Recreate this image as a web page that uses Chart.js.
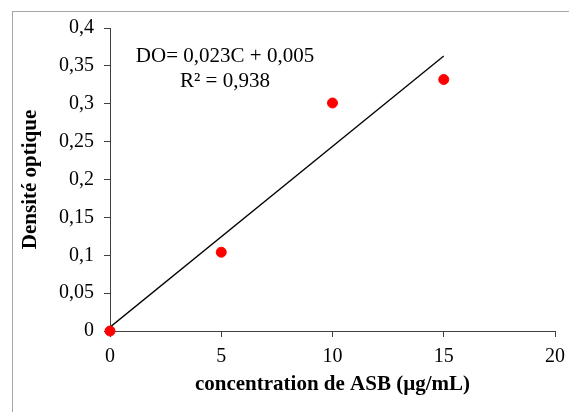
<!DOCTYPE html>
<html>
<head>
<meta charset="utf-8">
<script src="https://cdn.jsdelivr.net/npm/chart.js@4"></script>
<style>
    html, body { margin: 0; padding: 0; background: #fff; }
    #wrap { width: 569px; height: 412px; }
</style>
</head>
<body>
<div id="wrap"><canvas id="myChart" width="569" height="412"></canvas></div>
<script>
const concentrations = [0, 5, 10, 15];
const absorbances = [0, 0.104, 0.301, 0.332];
const trendX = [0, 15];
const trendY = [0.005, 0.363];
const equationLines = ['DO= 0,023C + 0,005', 'R\u00B2 = 0,938'];

const serif = 'Liberation Serif';
const axisColor = '#404040';

function frNumber(v) {
    return String(Number(v.toFixed(2))).replace('.', ',');
}

// gray frame + regression equation
const extras = {
    id: 'extras',
    afterDraw(chart) {
        const ctx = chart.ctx;
        ctx.save();
        ctx.strokeStyle = '#a6a6a6';
        ctx.lineWidth = 1;
        ctx.strokeRect(12.5, 11.5, 700, 600);
        ctx.fillStyle = '#000';
        ctx.font = '21px "' + serif + '"';
        ctx.textAlign = 'center';
        ctx.textBaseline = 'middle';
        ctx.fillText(equationLines[0], 225, 56);
        ctx.fillText(equationLines[1], 225, 81);
        ctx.restore();
    }
};

const ctx = document.getElementById('myChart').getContext('2d');
const myChart = new Chart(ctx, {
    type: 'scatter',
    data: {
        datasets: [{
            label: 'DO',
            data: concentrations.map((c, i) => ({ x: c, y: absorbances[i] })),
            backgroundColor: '#ff0000',
            borderColor: '#ff0000',
            pointRadius: 5,
            pointHoverRadius: 5,
            clip: false,
            order: 0
        }, {
            type: 'line',
            label: 'tendance',
            data: trendX.map((c, i) => ({ x: c, y: trendY[i] })),
            borderColor: '#000',
            borderWidth: 1.3,
            pointRadius: 0,
            fill: false,
            order: 1
        }]
    },
    options: {
        responsive: false,
        animation: false,
        layout: { padding: { left: 0, top: 28, right: 14, bottom: 0 } },
        plugins: {
            legend: { display: false },
            tooltip: { enabled: false }
        },
        scales: {
            x: {
                type: 'linear',
                min: 0,
                max: 20,
                ticks: {
                    stepSize: 5,
                    padding: 8,
                    color: '#000',
                    font: { family: serif, size: 20 }
                },
                grid: { drawOnChartArea: false, drawTicks: true, tickLength: 6, color: axisColor },
                border: { display: true, color: axisColor, width: 1 },
                title: {
                    display: true,
                    text: 'concentration de ASB (\u00B5g/mL)',
                    color: '#000',
                    font: { family: serif, size: 21, weight: 'bold' },
                    padding: { top: 0, bottom: 15 }
                },
                afterFit(scale) {
                    scale.height = 81;
                    scale.paddingRight = 0;
                }
            },
            y: {
                min: 0,
                max: 0.4,
                ticks: {
                    stepSize: 0.05,
                    padding: 10,
                    color: '#000',
                    font: { family: serif, size: 20 },
                    callback: (v) => frNumber(v)
                },
                grid: { drawOnChartArea: false, drawTicks: true, tickLength: 6, color: axisColor },
                border: { display: true, color: axisColor, width: 1 },
                title: {
                    display: true,
                    text: 'Densit\u00E9 optique',
                    color: '#000',
                    font: { family: serif, size: 21, weight: 'bold' },
                    padding: { top: 18, bottom: 0 }
                },
                afterFit(scale) { scale.width = 110; }
            }
        }
    },
    plugins: [extras]
});
</script>
</body>
</html>
